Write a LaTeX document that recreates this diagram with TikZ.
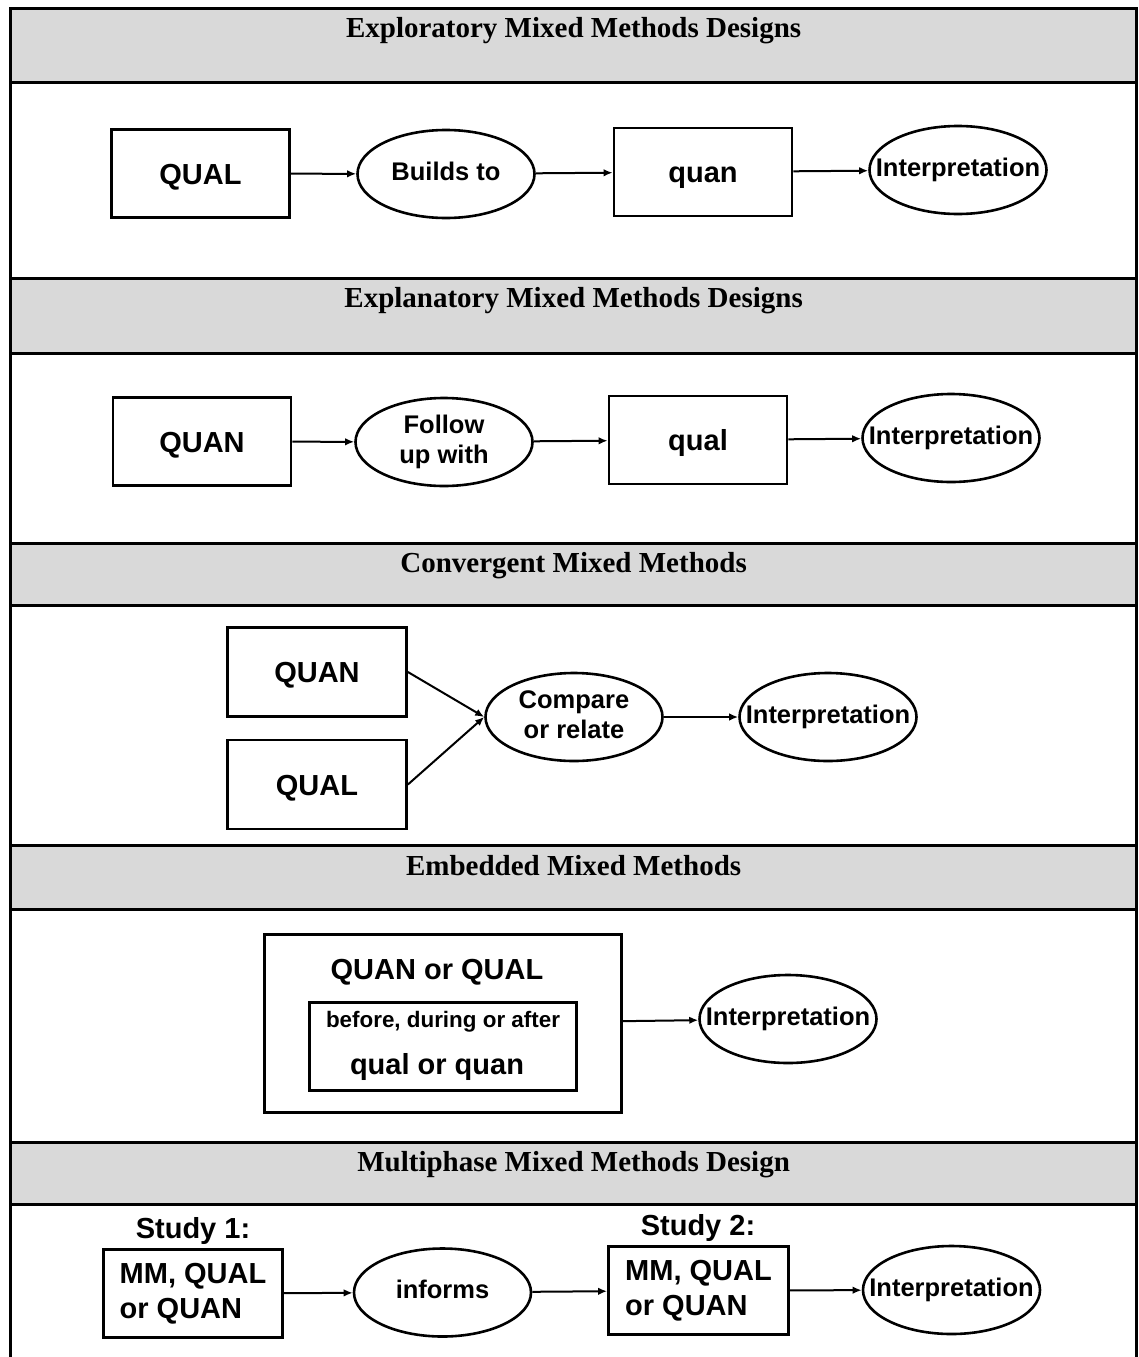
\documentclass[tikz,border=0pt]{standalone}
\usepackage{fontspec}
\setmainfont{Liberation Serif}
\setsansfont{Liberation Sans}
\usetikzlibrary{shapes.geometric,arrows.meta}
\definecolor{hdrgray}{RGB}{217,217,217}
% text that may spill past the outline without enlarging the node
\newcommand{\fixtext}[1]{\makebox[0pt]{\begin{tabular}{@{}c@{}}#1\end{tabular}}}

\begin{document}
\begin{tikzpicture}[x=1pt,y=-1pt,
  frame/.style={line width=3pt},
  title/.style={font=\rmfamily\bfseries\fontsize{29}{34}\selectfont, anchor=base, inner sep=0pt},
  boxnode/.style={draw, line width=2.8pt, rectangle, inner sep=0pt,
    minimum width=178pt, minimum height=88pt,
    font=\sffamily\bfseries\fontsize{29}{35}\selectfont, align=left},
  onebox/.style={boxnode, text height=21pt, text depth=0pt},
  ovalnode/.style={draw, line width=2.6pt, ellipse, inner sep=0pt,
    minimum width=177pt, minimum height=88pt,
    font=\sffamily\bfseries\fontsize{25.5}{30}\selectfont},
  plain/.style={inner sep=0pt, anchor=base, font=\sffamily\bfseries\fontsize{29}{35}\selectfont},
  flow/.style={line width=2pt, -{Latex[length=9pt,width=7.5pt]}},
]
\useasboundingbox (0,0) rectangle (1138,1357);
\fill[white] (0,0) rectangle (1138,1357);

% header bands
\fill[hdrgray] (10.7,8.7) rectangle (1136.5,82);
\fill[hdrgray] (10.7,278.5) rectangle (1136.5,353.3);
\fill[hdrgray] (10.7,543.3) rectangle (1136.5,605.7);
\fill[hdrgray] (10.7,845) rectangle (1136.5,909.3);
\fill[hdrgray] (10.7,1142.3) rectangle (1136.5,1204);

% table rules
\draw[frame, line join=miter] (10.7,1357) -- (10.7,8.7) -- (1136.5,8.7) -- (1136.5,1357);
\foreach \yy in {82,278.5,353.3,543.3,605.7,845,909.3,1142.3,1204}
  \draw[frame] (10.7,\yy) -- (1136.5,\yy);

% titles
\node[title] (t1) at (573.6,37.5) {Exploratory Mixed Methods Designs};
\node[title] (t2) at (573.6,307.5) {Explanatory Mixed Methods Designs};
\node[title] (t3) at (573.6,572) {Convergent Mixed Methods};
\node[title] (t4) at (573.6,875) {Embedded Mixed Methods};
\node[title] (t5) at (573.6,1171) {Multiphase Mixed Methods Design};

% exploratory
\node[onebox] (qual1) at (200.5,173.5) {QUAL};
\node[ovalnode] (build) at (446,174) {\fixtext{Builds to}};
\node[onebox] (quan1) at (703,172) {quan};
\node[ovalnode] (interp1) at (958,170) {\fixtext{Interpretation}};
\draw[flow] (qual1) -- (build);
\draw[flow] (build) -- (quan1);
\draw[flow] (quan1) -- (interp1);

% explanatory
\node[onebox] (quan2) at (202,441.5) {QUAN};
\node[ovalnode] (follow) at (444,442) {\fixtext{Follow\\up with}};
\node[onebox] (qual2) at (698,440) {qual};
\node[ovalnode] (interp2) at (951,438) {\fixtext{Interpretation}};
\draw[flow] (quan2) -- (follow);
\draw[flow] (follow) -- (qual2);
\draw[flow] (qual2) -- (interp2);

% convergent
\node[onebox, minimum width=179pt, minimum height=89pt] (quan3) at (317,672) {QUAN};
\node[onebox, minimum width=179pt, minimum height=89pt] (qual3) at (317,784.5) {QUAL};
\node[ovalnode] (compare) at (574,717) {\fixtext{Compare\\or relate}};
\node[ovalnode] (interp3) at (828,717) {\fixtext{Interpretation}};
\draw[flow] (quan3.east) -- (compare.west);
\draw[flow] (qual3.east) -- (compare.west);
\draw[flow] (compare) -- (interp3);

% embedded
\node[draw, line width=2.8pt, rectangle, inner sep=0pt, minimum width=357pt, minimum height=178pt] (outer) at (443,1023.5) {};
\node[draw, line width=2.8pt, rectangle, inner sep=0pt, minimum width=267pt, minimum height=88pt] (inner) at (443,1046.5) {};
\node[plain] (main4) at (437,979) {QUAN or QUAL};
\node[plain, font=\sffamily\bfseries\fontsize{22.4}{27}\selectfont] (when4) at (443,1027) {before, during or after};
\node[plain] (sub4) at (437,1074.5) {qual or quan};
\node[ovalnode] (interp4) at (788,1019) {\fixtext{Interpretation}};
\draw[flow] (outer) -- (interp4);

% multiphase
\node[plain] (s1) at (193,1238) {Study 1:};
\node[plain] (s2) at (698,1235) {Study 2:};
\node[boxnode, minimum width=179pt] (mm1) at (193,1293.5) {MM, QUAL\\or QUAN};
\node[ovalnode] (informs) at (442.5,1292.5) {\fixtext{informs}};
\node[boxnode, minimum width=180pt] (mm2) at (698.5,1290.5) {MM, QUAL\\or QUAN};
\node[ovalnode] (interp5) at (951.5,1290) {\fixtext{Interpretation}};
\draw[flow] (mm1) -- (informs);
\draw[flow] (informs) -- (mm2);
\draw[flow] (mm2) -- (interp5);
\end{tikzpicture}
\end{document}
